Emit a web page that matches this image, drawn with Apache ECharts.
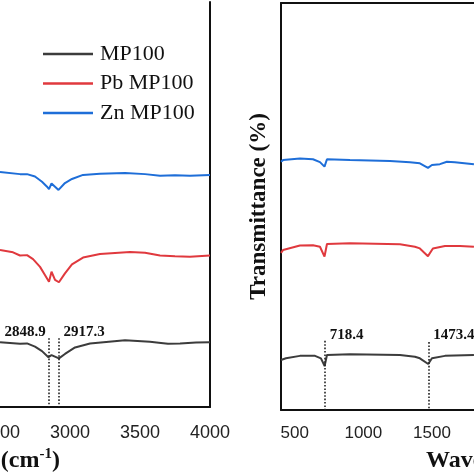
<!DOCTYPE html>
<html>
<head>
<meta charset="utf-8">
<script src="https://cdn.jsdelivr.net/npm/echarts@6/dist/echarts.min.js"></script>
<style>html,body{margin:0;padding:0;background:#fff;}#c{width:474px;height:474px;}</style>
</head>
<body>
<div id="c"></div>
<script>
// ---- data (wavenumber cm-1, transmittance % arbitrary offset) ----
const seriesNames = ['MP100', 'Pb MP100', 'Zn MP100'];
const xTicks = [500, 1000, 1500, 2000, 2500, 3000, 3500, 4000];

// Left panel (C-H stretching region)
const leftMP100 = [[2500,16.0],[2643,15.6],[2693,15.7],[2750,14.9],[2800,13.8],[2846,12.3],[2868,12.8],[2921,12.0],[2964,13.1],[3036,14.7],[3143,15.7],[3393,16.5],[3571,16.1],[3650,15.8],[3700,15.6],[3786,15.7],[3900,15.9],[4000,16.0]];
const leftPbMP100 = [[2500,38.8],[2593,38.2],[2643,37.4],[2693,37.5],[2736,36.5],[2786,34.6],[2821,32.6],[2850,30.9],[2868,33.4],[2893,31.4],[2921,30.8],[2964,33.0],[3014,35.2],[3093,36.9],[3214,37.8],[3429,38.3],[3536,38.1],[3643,37.4],[3750,37.2],[3857,37.1],[4000,37.4]];
const leftZnMP100 = [[2500,58.0],[2643,57.5],[2693,57.5],[2750,56.9],[2800,55.6],[2836,54.4],[2850,53.8],[2868,55.2],[2918,53.6],[2964,55.3],[3014,56.3],[3093,57.3],[3214,57.6],[3393,57.8],[3536,57.5],[3643,57.1],[3750,57.2],[3857,57.1],[4000,57.3]];

// Right panel (fingerprint region)
const rightMP100 = [[400,12.3],[436,12.7],[538,13.3],[648,13.3],[691,12.7],[718,10.8],[735,13.5],[903,13.7],[1267,13.5],[1376,13.1],[1412,12.7],[1473,11.3],[1500,12.7],[1595,13.3],[1806,13.5]];
const rightPbMP100 = [[400,38.6],[415,39.3],[538,40.4],[633,40.5],[684,40.1],[717,37.7],[735,40.8],[903,41.0],[1267,40.7],[1376,40.1],[1412,39.7],[1471,37.8],[1507,39.7],[1595,40.3],[1704,40.3],[1806,40.1]];
const rightZnMP100 = [[400,61.0],[415,61.4],[538,61.8],[633,61.6],[684,60.9],[717,59.8],[735,61.6],[903,61.4],[1194,61.2],[1340,60.9],[1412,60.6],[1471,59.5],[1500,60.2],[1558,60.4],[1609,61.0],[1667,60.9],[1806,60.4]];

// Peak annotations
const leftPeaks = [{x:2848.9, top:17.0, label:'2848.9', side:'left'}, {x:2917.3, top:17.0, label:'2917.3', side:'right'}];
const rightPeaks = [{x:718.4, top:17.0, label:'718.4', side:'right'}, {x:1473.4, top:16.7, label:'1473.4', side:'right'}];

const colors = ['#3c3c3c', '#e0393e', '#1e6ed8'];
const serif = '"Liberation Serif", "Times New Roman", serif';
const sans = '"Liberation Sans", Arial, sans-serif';

function peakMarkLine(peaks) {
  return {
    silent: true, symbol: ['none','none'], label: {show:false},
    lineStyle: {type:[1.6, 1.8], color:'#222', width:1.6},
    data: peaks.map(p => [{coord:[p.x, p.top]}, {coord:[p.x, 0]}])
  };
}
function peakMarkPoint(peaks, yLab) {
  return {
    silent: true, symbol:'circle', symbolSize: 0,
    data: peaks.map(p => ({
      coord:[p.x, yLab], value: p.label,
      label: {show:true, position: p.side, distance: p.side==='left'?3:5, formatter: p.label,
              fontFamily: serif, fontWeight:'bold', fontSize:15, color:'#111'}
    }))
  };
}

const axisNameRich = {
  a: {fontFamily: serif, fontWeight:'bold', fontSize:24, color:'#111'},
  sup: {fontFamily: serif, fontWeight:'bold', fontSize:15, color:'#111', verticalAlign:'top', padding:[0,0,12,0]}
};

function lineSeries(name, data, idx, xi, yi, extra) {
  return Object.assign({
    name, type:'line', data, xAxisIndex: xi, yAxisIndex: yi,
    symbol:'none', showSymbol:false,
    lineStyle:{color:colors[idx], width:2}, itemStyle:{color:colors[idx]},
    z: 3
  }, extra || {});
}
const plainNum = v => String(v);

const chart = echarts.init(document.getElementById('c'), null, {renderer:'canvas'});
chart.setOption({
  animation:false,
  backgroundColor:'#fff',
  legend: {
    data: seriesNames, orient:'vertical', left:43, top:43, padding:0,
    icon:'rect', itemWidth:50, itemHeight:2.5, itemGap:7.5,
    textStyle:{fontFamily: serif, fontSize:22, color:'#111', lineHeight:22, padding:[0,0,0,2]}
  },
  grid: [
    {left:-294, right:264, top:2, bottom:67, outerBoundsMode:'none', containLabel:false},
    {left:281, right:-301, top:3, bottom:64, outerBoundsMode:'none', containLabel:false}
  ],
  xAxis: [
    {gridIndex:0, type:'value', min:400, max:4000, position:'bottom',
     axisLine:{show:true, lineStyle:{color:'#111', width:2}}, axisTick:{show:false}, splitLine:{show:false},
     axisLabel:{customValues:xTicks, formatter:plainNum, fontFamily:sans, fontSize:18, color:'#222', margin:17},
     name:'{a|Wavenumber (cm}{sup|-1}{a|)}', nameLocation:'middle', nameGap:38,
     nameTextStyle:{rich:axisNameRich}},
    {gridIndex:1, type:'value', min:400, max:4000, position:'bottom',
     axisLine:{show:true, lineStyle:{color:'#111', width:2}}, axisTick:{show:false}, splitLine:{show:false},
     axisLabel:{customValues:xTicks, formatter:plainNum, fontFamily:sans, fontSize:17, color:'#222', margin:15},
     name:'{a|Wavenumber (cm}{sup|-1}{a|)}', nameLocation:'middle', nameGap:37,
     nameTextStyle:{rich:axisNameRich}},
    {gridIndex:1, type:'value', min:400, max:4000, position:'top',
     axisLine:{show:true, lineStyle:{color:'#111', width:2}}, axisTick:{show:false}, axisLabel:{show:false}, splitLine:{show:false}}
  ],
  yAxis: [
    {gridIndex:0, type:'value', min:0, max:100, position:'left',
     axisLine:{show:true, lineStyle:{color:'#111', width:2}}, axisTick:{show:false}, axisLabel:{show:false}, splitLine:{show:false}},
    {gridIndex:0, type:'value', min:0, max:100, position:'right',
     axisLine:{show:true, lineStyle:{color:'#111', width:2}}, axisTick:{show:false}, axisLabel:{show:false}, splitLine:{show:false}},
    {gridIndex:1, type:'value', min:0, max:100, position:'left',
     axisLine:{show:true, lineStyle:{color:'#111', width:2}}, axisTick:{show:false}, axisLabel:{show:false}, splitLine:{show:false},
     name:'Transmittance (%)', nameLocation:'middle', nameGap:10,
     nameTextStyle:{fontFamily:serif, fontWeight:'bold', fontSize:23, color:'#111'}}
  ],
  series: [
    lineSeries(seriesNames[0], leftMP100, 0, 0, 0, {markLine: peakMarkLine(leftPeaks), markPoint: peakMarkPoint(leftPeaks, 18.5)}),
    lineSeries(seriesNames[1], leftPbMP100, 1, 0, 0),
    lineSeries(seriesNames[2], leftZnMP100, 2, 0, 0),
    lineSeries(seriesNames[0], rightMP100, 0, 1, 2, {markLine: peakMarkLine(rightPeaks), markPoint: peakMarkPoint(rightPeaks, 18.5)}),
    lineSeries(seriesNames[1], rightPbMP100, 1, 1, 2),
    lineSeries(seriesNames[2], rightZnMP100, 2, 1, 2)
  ]
});
</script>
</body>
</html>
